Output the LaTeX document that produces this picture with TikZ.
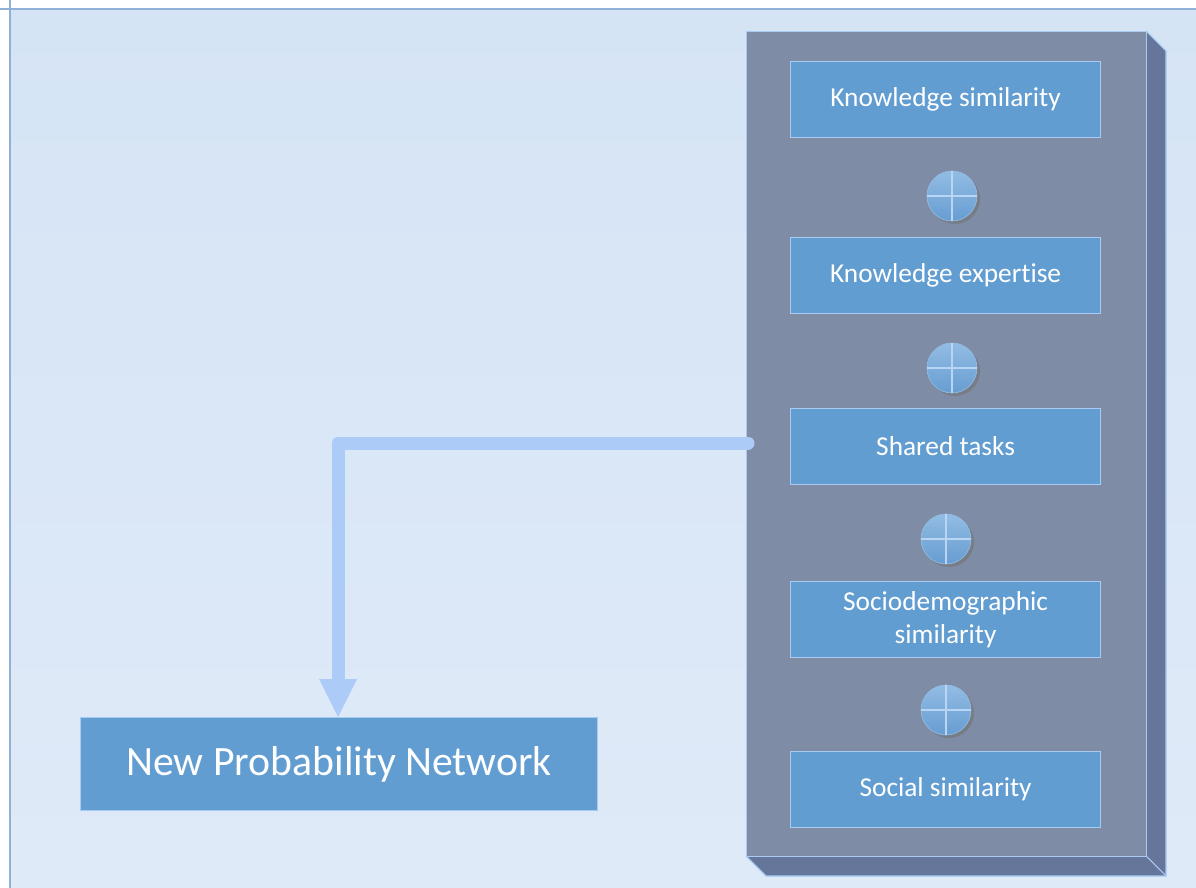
\documentclass[tikz,border=0pt]{standalone}
\usepackage{fontspec}
\setmainfont{Carlito}[Ligatures=NoCommon]
\usetikzlibrary{arrows.meta}
\definecolor{bgA}{HTML}{D5E4F5}
\definecolor{bgB}{HTML}{DFEAF8}
\definecolor{bgline}{HTML}{90B0D8}
\definecolor{front}{HTML}{7F8CA6}
\definecolor{side}{HTML}{65769A}
\definecolor{edge}{HTML}{A9CBF2}
\definecolor{boxfill}{HTML}{629DD1}
\definecolor{arrowc}{HTML}{ADCBF7}
\definecolor{circtop}{HTML}{92BCE3}
\definecolor{circbot}{HTML}{679DD2}
\definecolor{circline}{HTML}{B8D5F3}
\tikzset{
  factor/.style={draw=edge, line width=0.9pt, fill=boxfill, text=white,
    minimum width=232.5pt, minimum height=57pt, inner sep=2pt, align=center,
    font=\fontsize{20.5}{24.75}\selectfont, anchor=north west},
  result/.style={draw=edge, line width=0.9pt, fill=boxfill, text=white,
    minimum width=387.75pt, minimum height=69.75pt, anchor=north west,
    font=\fontsize{31.3}{36}\selectfont},
  plus/.style={circle, minimum size=37.5pt, inner sep=0pt,
    top color=circtop, bottom color=circbot, draw=circtop, line width=0.5pt},
  flow/.style={arrowc, line width=9.75pt, line cap=round, line join=round}
}
\begin{document}
\begin{tikzpicture}[x=0.75pt,y=-0.75pt]
\useasboundingbox (0,0) rectangle (1196,888);
\fill[white] (0,0) rectangle (1196,888);
\shade[top color=bgA, bottom color=bgB] (10,9) rectangle (1196,888);
\draw[bgline, line width=1.2pt] (0,9) -- (1196,9);
\draw[bgline, line width=1.2pt] (10,0) -- (10,888);
% 3D panel
\fill[side] (1146,31) -- (1166,51) -- (1166,876) -- (766,876) -- (746,856) -- (1146,856) -- cycle;
\draw[edge, line width=0.8pt] (1146,31) -- (1166,51) -- (1166,876) -- (766,876) -- (746,856);
\draw[edge, line width=0.8pt] (1146,856) -- (1166,876);
\node[draw=edge, line width=0.9pt, fill=front, minimum width=300pt, minimum height=618.75pt, anchor=north west, inner sep=0pt] (panel) at (746,31) {};
% factor boxes
\node[factor] (ks) at (790,61) {Knowledge similarity};
\node[factor] (ke) at (790,237) {Knowledge expertise};
\node[factor] (st) at (790,408) {Shared tasks};
\node[factor] (sd) at (790,581) {Sociodemographic\\similarity};
\node[factor] (ss) at (790,751) {Social similarity};
% plus circles
\foreach \n/\cx/\cy in {p1/952/196, p2/952/368, p3/946/539, p4/946/710}{
  \fill[black!55, opacity=0.6] (\cx+3,\cy+3) circle (25);
  \node[plus] (\n) at (\cx,\cy) {};
  \draw[circline, line width=1.1pt] (\n.north) -- (\n.south);
  \draw[circline, line width=1.1pt] (\n.west) -- (\n.east);
}
% result
\node[result] (npn) at (80,717) {New Probability Network};
% flow arrow
\coordinate (start) at (748,443);
\coordinate (bend) at (338,443);
\coordinate (shaftend) at (338,684);
\draw[flow] (start) -- (bend) -- (shaftend);
\fill[arrowc] (319,679) -- (357,679) -- (npn.north -| bend) -- cycle;
\end{tikzpicture}
\end{document}
